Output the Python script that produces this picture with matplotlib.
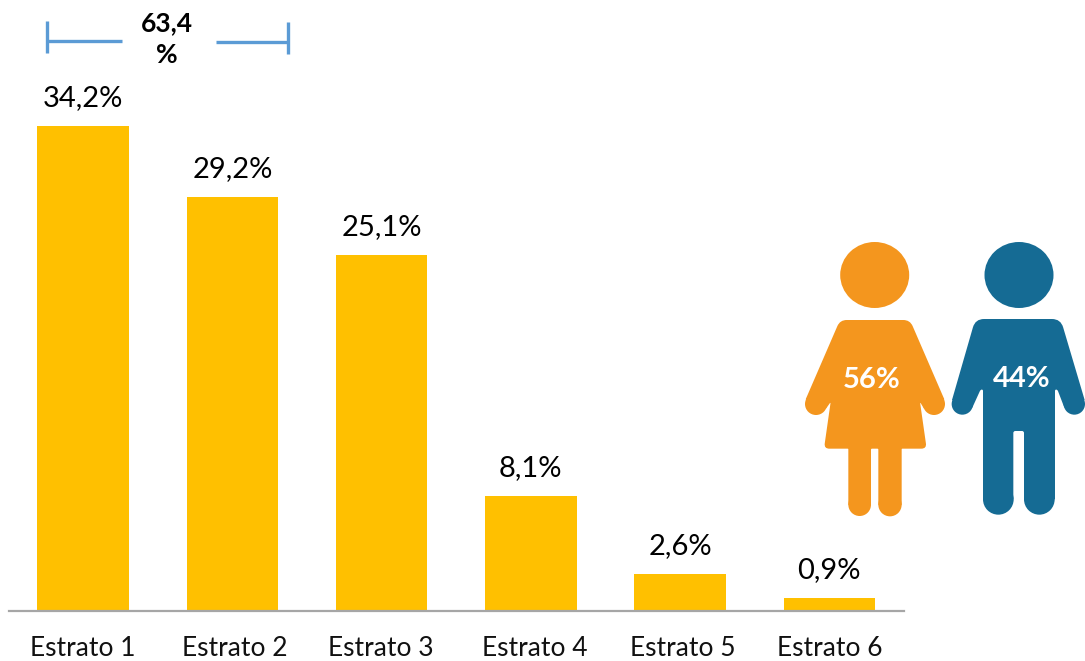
import matplotlib
matplotlib.use("Agg")
import matplotlib.pyplot as plt
from matplotlib.path import Path
from matplotlib.patches import PathPatch, Ellipse
from matplotlib.transforms import ScaledTranslation
import numpy as np

plt.rcParams['font.family'] = ['Lato', 'DejaVu Sans']

categories = ["Estrato 1", "Estrato 2", "Estrato 3", "Estrato 4", "Estrato 5", "Estrato 6"]
values = [34.2, 29.2, 25.1, 8.1, 2.6, 0.9]
bracket_label = ["63,4", "%"]
female_label = "56%"
male_label = "44%"

W, H = 1085, 661
BAR = "#FFC000"
ORANGE = "#F4961E"
BLUE = "#156B94"
BRACKET = "#5B9BD5"
AXIS = "#A6A6A6"
label_nudge_px = [0, 2.5, -1, 3.5, 3, 0]

fig = plt.figure(figsize=(W / 100, H / 100), dpi=100)
ax = fig.add_axes([8.5 / W, (H - 611) / H, 895.5 / W, 611 / H])
x = np.arange(len(values))
ax.bar(x, values, width=0.612, color=BAR)
ax.set_xlim(-0.5, 5.5)
ax.set_ylim(0, 611 / 14.18)
for s in ("top", "left", "right"):
    ax.spines[s].set_visible(False)
ax.spines["bottom"].set_color(AXIS)
ax.spines["bottom"].set_linewidth(1.6)
ax.set_yticks([])
ax.set_xticks(x)
ax.set_xticklabels(categories, fontsize=19, color="#111111")
ax.tick_params(axis="x", length=0, pad=18)
for lbl, dx in zip(ax.get_xticklabels(), label_nudge_px):
    lbl.set_transform(lbl.get_transform() + ScaledTranslation(dx / 100, 0, fig.dpi_scale_trans))
for xi, v in zip(x, values):
    ax.annotate(f"{v:.1f}%".replace(".", ","), (xi, v), xytext=(0, 11), textcoords="offset points",
                ha="center", va="bottom", fontsize=21, color="#000000")

# overlay in pixel coordinates for the annotation and pictograms
ov = fig.add_axes([0, 0, 1, 1])
ov.set_xlim(0, W)
ov.set_ylim(H, 0)
ov.axis("off")
ov.patch.set_alpha(0)

lw = 2.4
ov.plot([47, 47], [21, 53], color=BRACKET, lw=lw, solid_capstyle="butt")
ov.plot([47, 122], [41, 41], color=BRACKET, lw=lw, solid_capstyle="butt")
ov.plot([288, 288], [22, 54], color=BRACKET, lw=lw, solid_capstyle="butt")
ov.plot([216, 288], [41.5, 41.5], color=BRACKET, lw=lw, solid_capstyle="butt")
ov.text(167, 23, bracket_label[0], ha="center", va="center", fontsize=19, fontweight="bold", color="#000000")
ov.text(167, 55, bracket_label[1], ha="center", va="center", fontsize=19, fontweight="bold", color="#000000")


def crop(px, py):
    return 790 + px / 3, 230 + py / 3


def rounded(verts):
    """Closed path through corner points (x, y, radius), in 3x crop units."""
    pts = np.array([(a, b) for a, b, _ in verts], float)
    rad = [r for _, _, r in verts]
    n = len(pts)
    codes, out = [], []
    for i in range(n):
        p, prev, nxt = pts[i], pts[i - 1], pts[(i + 1) % n]
        d1 = (prev - p) / np.linalg.norm(prev - p)
        d2 = (nxt - p) / np.linalg.norm(nxt - p)
        a, b = p + d1 * rad[i], p + d2 * rad[i]
        codes += [Path.MOVETO if i == 0 else Path.LINETO, Path.CURVE3, Path.CURVE3]
        out += [a, p, b]
    out.append(out[0])
    codes.append(Path.CLOSEPOLY)
    out = np.array(out) / 3 + [790, 230]
    return Path(out, codes)


def dots(color, items):
    for cx, cy, r in items:
        ov.add_patch(Ellipse(crop(cx, cy), 2 * r / 3, 2 * r / 3, color=color, lw=0))


woman = [
    (150, 270, 20), (360, 270, 20), (463, 508, 1), (402, 536, 1), (390, 516, 5),
    (410, 656, 16), (335, 656, 2), (335, 825, 1), (265, 825, 1),
    (265, 656, 3), (243, 656, 3), (243, 825, 1), (175, 825, 1), (175, 656, 2),
    (102, 656, 16), (122, 516, 5), (108, 536, 1), (47, 508, 1),
]
man = [
    (556, 267, 26), (812, 267, 26), (884, 510, 1), (823, 533, 1),
    (802, 478, 6), (795, 478, 5), (795, 808, 1), (702, 808, 1), (702, 603, 6),
    (670, 603, 6), (670, 808, 1), (579, 808, 1), (579, 478, 5), (572, 478, 6),
    (547, 533, 1), (486, 510, 1),
]
ov.add_patch(Ellipse((874.7, 275), 69, 66, color=ORANGE, lw=0))
ov.add_patch(PathPatch(rounded(woman), facecolor=ORANGE, lw=0))
dots(ORANGE, [(432, 522, 33), (78, 522, 33), (300, 824, 35), (209, 824, 34)])
ov.add_patch(Ellipse((1019, 275), 69, 66, color=BLUE, lw=0))
ov.add_patch(PathPatch(rounded(man), facecolor=BLUE, lw=0))
dots(BLUE, [(853, 522, 32), (517, 522, 32), (748, 808, 46), (625, 808, 46)])
ov.text(871.5, 380, female_label, ha="center", va="center", fontsize=21, fontweight="bold", color="white")
ov.text(1022, 379, male_label, ha="center", va="center", fontsize=21, fontweight="bold", color="white")

fig.savefig("out.png", dpi=100)
